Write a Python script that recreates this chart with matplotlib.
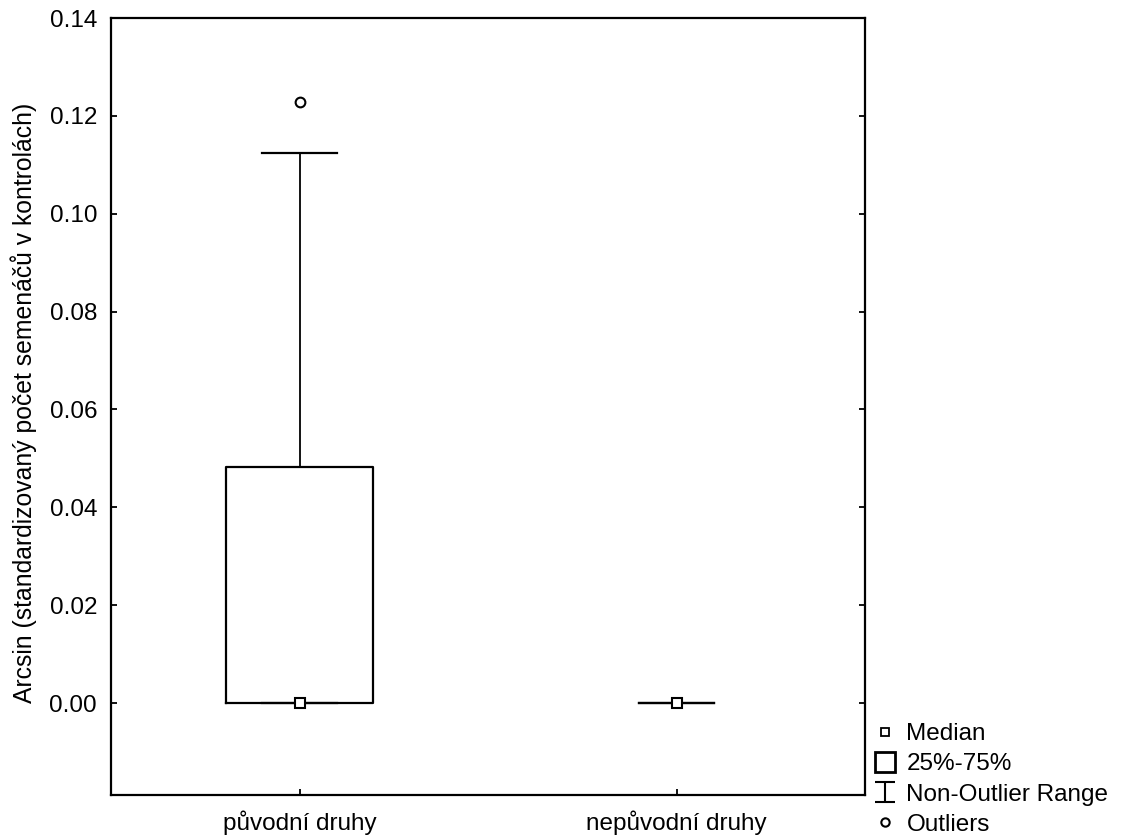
import matplotlib.pyplot as plt
from matplotlib.lines import Line2D
from matplotlib.path import Path

# === Data ===
categories = ['původní druhy', 'nepůvodní druhy']
medians = [0.0, 0.0]
q1 = [0.0, 0.0]
q3 = [0.0482, 0.0]
whisker_lo = [0.0, 0.0]
whisker_hi = [0.1125, 0.0]
outliers = [[0.1229], []]
y_ticks = [0.00, 0.02, 0.04, 0.06, 0.08, 0.10, 0.12, 0.14]

plt.rcParams['font.family'] = ['Liberation Sans', 'DejaVu Sans']
FS = 17.5

fig = plt.figure(figsize=(11.21, 8.39), dpi=100)
ax = fig.add_axes([111 / 1121, 1 - 795 / 839, (865 - 111) / 1121, (795 - 18) / 839])

stats = []
for i, name in enumerate(categories):
    stats.append({'label': name, 'med': medians[i], 'q1': q1[i], 'q3': q3[i],
                  'whislo': whisker_lo[i], 'whishi': whisker_hi[i], 'fliers': outliers[i]})

pos = list(range(len(categories)))
art = ax.bxp(stats, positions=pos, widths=0.39, capwidths=0.2,
             boxprops=dict(color='black', linewidth=1.6),
             whiskerprops=dict(color='black', linewidth=1.3),
             capprops=dict(color='black', linewidth=1.6),
             medianprops=dict(linewidth=0),
             flierprops=dict(marker='o', markerfacecolor='white', markeredgecolor='black',
                             markersize=7, markeredgewidth=1.5))
# box with no spread is not drawn
for i, b in enumerate(art['boxes']):
    if q3[i] == q1[i]:
        b.set_visible(False)

ax.plot(pos, medians, 's', markerfacecolor='white', markeredgecolor='black',
        markersize=7, markeredgewidth=1.5, zorder=5)

ax.set_xlim(-0.5, 1.5)
ax.set_ylim(-0.0188, 0.14)
ax.set_yticks(y_ticks)
ax.set_yticklabels([f'{v:.2f}' for v in y_ticks])
ax.set_xticks(pos)
ax.set_xticklabels(categories)
ax.tick_params(axis='both', direction='in', length=4, width=1.3, labelsize=FS, color='black')
ax.tick_params(axis='y', right=True, pad=10)
ax.tick_params(axis='x', pad=11)
for s in ax.spines.values():
    s.set_linewidth(1.6)
ax.set_ylabel('Arcsin (standardizovaný počet semenáčů v kontrolách)', fontsize=17.8)
ax.yaxis.set_label_coords(-0.098, (795 - 403) / 777)

# legend
ibeam = Path([(-1, 1), (1, 1), (0, 1), (0, -1), (-1, -1), (1, -1)],
             [Path.MOVETO, Path.LINETO, Path.MOVETO, Path.LINETO, Path.MOVETO, Path.LINETO])
handles = [
    Line2D([], [], linestyle='none', marker='s', markersize=6, markerfacecolor='white',
           markeredgecolor='black', markeredgewidth=1.3),
    Line2D([], [], linestyle='none', marker='s', markersize=14, markerfacecolor='white',
           markeredgecolor='black', markeredgewidth=2),
    Line2D([], [], linestyle='none', marker=ibeam, markersize=15, markerfacecolor='none',
           markeredgecolor='black', markeredgewidth=1.5),
    Line2D([], [], linestyle='none', marker='o', markersize=6, markerfacecolor='white',
           markeredgecolor='black', markeredgewidth=1.5),
]
labels = ['Median', '25%-75%', 'Non-Outlier Range', 'Outliers']
fig.legend(handles, labels, loc='upper left', bbox_to_anchor=(870 / 1121, 1 - 723 / 839),
           frameon=False, fontsize=FS, handlelength=1.2, handletextpad=0.3,
           labelspacing=0.34, borderpad=0, borderaxespad=0)

fig.savefig('out.png', dpi=100)
